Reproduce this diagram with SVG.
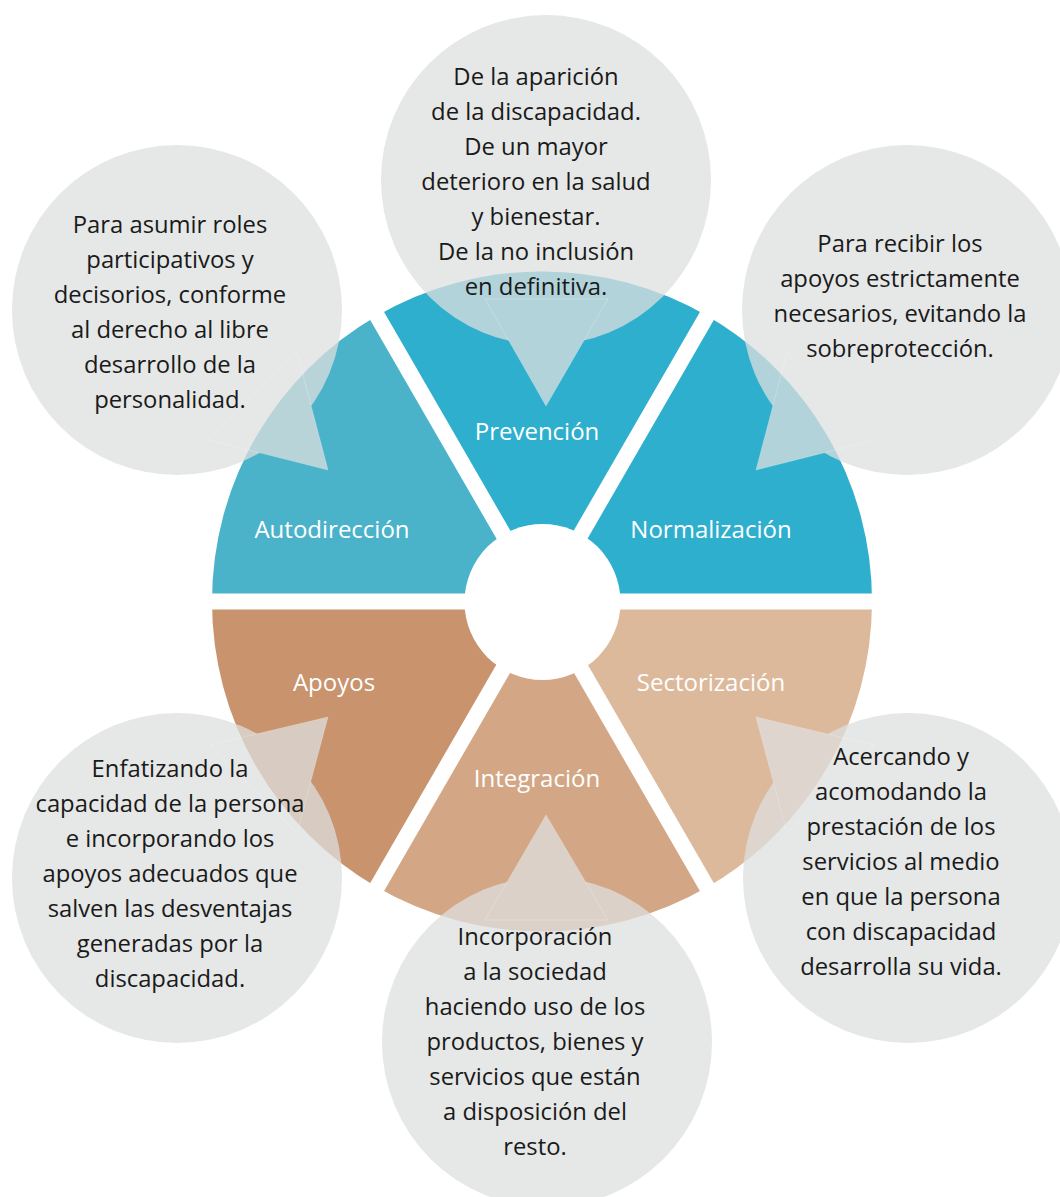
<svg xmlns="http://www.w3.org/2000/svg" width="1060" height="1197" viewBox="0 0 1060 1197">
<style>
.lbl{font-family:"Open Sans","Noto Sans","DejaVu Sans",sans-serif;font-size:24px;fill:#ffffff;text-anchor:middle}
.txt{font-family:"Open Sans","Noto Sans","DejaVu Sans",sans-serif;font-size:23.8px;fill:#1a1a1a;text-anchor:middle}
.bub{fill:#dedfdf}
.edge{fill:none;stroke:#ffffff;stroke-opacity:0.22;stroke-width:1}
.gap{stroke:#ffffff;stroke-width:16}
</style>
<rect width="1060" height="1197" fill="#ffffff"/>
<g id="wheel">
<path id="w-autodireccion" d="M542 601.5 L212 601.5 A330 330 0 0 1 377 315.7 Z" fill="#4ab3ca"/>
<path id="w-prevencion" d="M542 601.5 L377 315.7 A330 330 0 0 1 707 315.7 Z" fill="#2eafce"/>
<path id="w-normalizacion" d="M542 601.5 L707 315.7 A330 330 0 0 1 872 601.5 Z" fill="#2eafce"/>
<path id="w-sectorizacion" d="M542 601.5 L872 601.5 A330 330 0 0 1 707 887.3 Z" fill="#ddb99c"/>
<path id="w-integracion" d="M542 601.5 L707 887.3 A330 330 0 0 1 377 887.3 Z" fill="#d3a785"/>
<path id="w-apoyos" d="M542 601.5 L377 887.3 A330 330 0 0 1 212 601.5 Z" fill="#c8936d"/>
<line class="gap" x1="200" y1="601.5" x2="884" y2="601.5"/>
<line class="gap" x1="369.5" y1="302.7" x2="714.5" y2="900.3"/>
<line class="gap" x1="714.5" y1="302.7" x2="369.5" y2="900.3"/>
<circle cx="542.5" cy="602" r="78" fill="#ffffff"/>
</g>
<g id="bubbles" opacity="0.75">
<g id="b-prevencion"><circle class="bub" cx="546" cy="180" r="165"/><polygon class="bub" points="485,299 608,299 546,406"/></g>
<g id="b-autodireccion"><circle class="bub" cx="177" cy="310" r="165"/><polygon class="bub" points="328,470 297,352 209,440"/></g>
<g id="b-normalizacion"><circle class="bub" cx="907" cy="310" r="165"/><polygon class="bub" points="756,470 787,352 875,440"/></g>
<g id="b-apoyos"><circle class="bub" cx="177" cy="878" r="165"/><polygon class="bub" points="328,717 210,745 297,833"/></g>
<g id="b-sectorizacion"><circle class="bub" cx="908" cy="878" r="165"/><polygon class="bub" points="756,717 874,745 787,833"/></g>
<g id="b-integracion"><circle class="bub" cx="547" cy="1042" r="165"/><polygon class="bub" points="546,815 485,920 608,920"/></g>
</g>
<g id="edges">
<polygon class="edge" points="485,299 608,299 546,406"/>
<polygon class="edge" points="328,470 297,352 209,440"/>
<polygon class="edge" points="756,470 787,352 875,440"/>
<polygon class="edge" points="328,717 210,745 297,833"/>
<polygon class="edge" points="756,717 874,745 787,833"/>
<polygon class="edge" points="546,815 485,920 608,920"/>
</g>
<g id="labels">
<text class="lbl" x="537" y="440">Prevención</text>
<text class="lbl" x="332" y="538">Autodirección</text>
<text class="lbl" x="711" y="538">Normalización</text>
<text class="lbl" x="334" y="691">Apoyos</text>
<text class="lbl" x="711" y="691">Sectorización</text>
<text class="lbl" x="537" y="787">Integración</text>
</g>
<g id="t-prevencion">
<text class="txt" x="536" y="85">De la aparición</text>
<text class="txt" x="536" y="120">de la discapacidad.</text>
<text class="txt" x="536" y="155">De un mayor</text>
<text class="txt" x="536" y="190">deterioro en la salud</text>
<text class="txt" x="536" y="225">y bienestar.</text>
<text class="txt" x="536" y="260">De la no inclusión</text>
<text class="txt" x="536" y="295">en definitiva.</text>
</g>
<g id="t-autodireccion">
<text class="txt" x="170" y="233">Para asumir roles</text>
<text class="txt" x="170" y="268">participativos y</text>
<text class="txt" x="170" y="303">decisorios, conforme</text>
<text class="txt" x="170" y="338">al derecho al libre</text>
<text class="txt" x="170" y="373">desarrollo de la</text>
<text class="txt" x="170" y="408">personalidad.</text>
</g>
<g id="t-normalizacion">
<text class="txt" x="900" y="252">Para recibir los</text>
<text class="txt" x="900" y="287">apoyos estrictamente</text>
<text class="txt" x="900" y="322">necesarios, evitando la</text>
<text class="txt" x="900" y="357">sobreprotección.</text>
</g>
<g id="t-apoyos">
<text class="txt" x="170" y="777">Enfatizando la</text>
<text class="txt" x="170" y="812">capacidad de la persona</text>
<text class="txt" x="170" y="847">e incorporando los</text>
<text class="txt" x="170" y="882">apoyos adecuados que</text>
<text class="txt" x="170" y="917">salven las desventajas</text>
<text class="txt" x="170" y="952">generadas por la</text>
<text class="txt" x="170" y="987">discapacidad.</text>
</g>
<g id="t-sectorizacion">
<text class="txt" x="901" y="765">Acercando y</text>
<text class="txt" x="901" y="800">acomodando la</text>
<text class="txt" x="901" y="835">prestación de los</text>
<text class="txt" x="901" y="870">servicios al medio</text>
<text class="txt" x="901" y="905">en que la persona</text>
<text class="txt" x="901" y="940">con discapacidad</text>
<text class="txt" x="901" y="975">desarrolla su vida.</text>
</g>
<g id="t-integracion">
<text class="txt" x="535" y="945">Incorporación</text>
<text class="txt" x="535" y="980">a la sociedad</text>
<text class="txt" x="535" y="1015">haciendo uso de los</text>
<text class="txt" x="535" y="1050">productos, bienes y</text>
<text class="txt" x="535" y="1085">servicios que están</text>
<text class="txt" x="535" y="1120">a disposición del</text>
<text class="txt" x="535" y="1155">resto.</text>
</g>
</svg>
